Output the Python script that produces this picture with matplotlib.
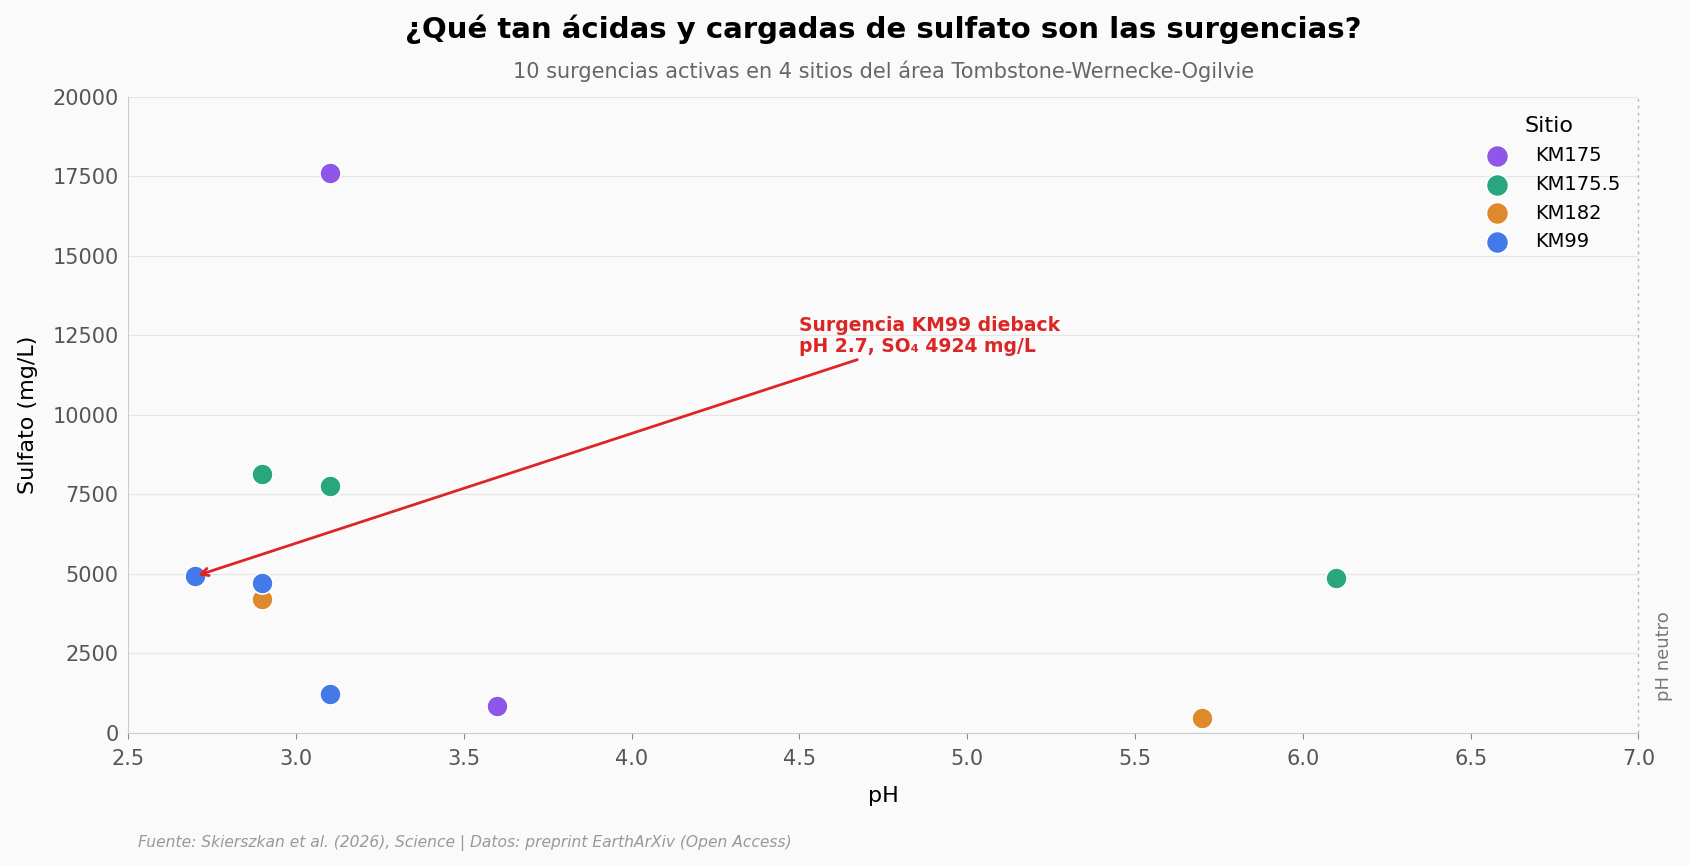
import matplotlib

matplotlib.use("Agg")
import matplotlib.pyplot as plt

# ---- data ----------------------------------------------------------------- #
sites = ["KM175", "KM175.5", "KM182", "KM99"]
site_colors = ["#8e57ea", "#2aa67f", "#de8a2c", "#4479ea"]
ph_by_site = {
    "KM175": [3.1, 3.6],
    "KM175.5": [2.9, 3.1, 6.1],
    "KM182": [2.9, 5.7],
    "KM99": [2.7, 2.9, 3.1],
}
so4_by_site = {
    "KM175": [17600, 850],
    "KM175.5": [8150, 7750, 4850],
    "KM182": [4200, 470],
    "KM99": [4924, 4720, 1200],
}
x_ticks = [2.5, 3.0, 3.5, 4.0, 4.5, 5.0, 5.5, 6.0, 6.5, 7.0]
y_ticks = [0, 2500, 5000, 7500, 10000, 12500, 15000, 17500, 20000]
highlight = (2.7, 4924)

BG = "#fafafa"
RED = "#dc2626"

fig = plt.figure(figsize=(16.89, 8.66), dpi=100, facecolor=BG)
ax = fig.add_axes([0.0759, 0.154, 0.8942, 0.734], facecolor=BG)

for site, col in zip(sites, site_colors):
    ax.scatter(ph_by_site[site], so4_by_site[site], s=230, color=col,
               edgecolor="white", linewidth=1.2, label=site, zorder=3)

ax.axvline(7.0, color="#b5b5b5", ls=(0, (2, 3)), lw=1, zorder=1, clip_on=False)
ax.text(7.05, 1000, "pH neutro", rotation=90, ha="left", va="bottom",
        fontsize=13, color="#777777")

ax.annotate("Surgencia KM99 dieback\npH 2.7, SO\u2084 4924 mg/L",
            xy=highlight, xytext=(4.5, 11850), ha="left", va="bottom",
            fontsize=13.5, fontweight="bold", color=RED, linespacing=1.15,
            arrowprops=dict(arrowstyle="->", color=RED, lw=2))

ax.set_xlim(2.5, 7.0)
ax.set_ylim(0, 20000)
ax.set_xticks(x_ticks)
ax.set_yticks(y_ticks)
ax.tick_params(labelsize=15, colors="#555555")
ax.tick_params(axis="x", length=4, pad=8, color="#888888")
ax.tick_params(axis="y", length=0, pad=7)
ax.grid(axis="y", color="#e6e6e6", lw=0.9, zorder=0)
ax.set_axisbelow(True)
for side in ("top", "right"):
    ax.spines[side].set_visible(False)
for side in ("left", "bottom"):
    ax.spines[side].set_color("#cccccc")

ax.set_xlabel("pH", fontsize=16, labelpad=12)
ax.set_ylabel("Sulfato (mg/L)", fontsize=16, labelpad=10)

leg = ax.legend(title="Sitio", loc="upper right", frameon=False, fontsize=14,
                title_fontsize=16, markerscale=1.05, handletextpad=1.0,
                labelspacing=0.5, bbox_to_anchor=(1.0, 0.997))

fig.text(0.523, 0.966, "¿Qué tan ácidas y cargadas de sulfato son las surgencias?",
         ha="center", va="center", fontsize=21, fontweight="bold")
fig.text(0.523, 0.918, "10 surgencias activas en 4 sitios del área Tombstone-Wernecke-Ogilvie",
         ha="center", va="center", fontsize=15, color="#666666")
fig.text(0.082, 0.026,
         "Fuente: Skierszkan et al. (2026), Science | Datos: preprint EarthArXiv (Open Access)",
         ha="left", va="center", fontsize=11.2, style="italic", color="#999999")

fig.savefig("out.png", dpi=100, facecolor=BG)
